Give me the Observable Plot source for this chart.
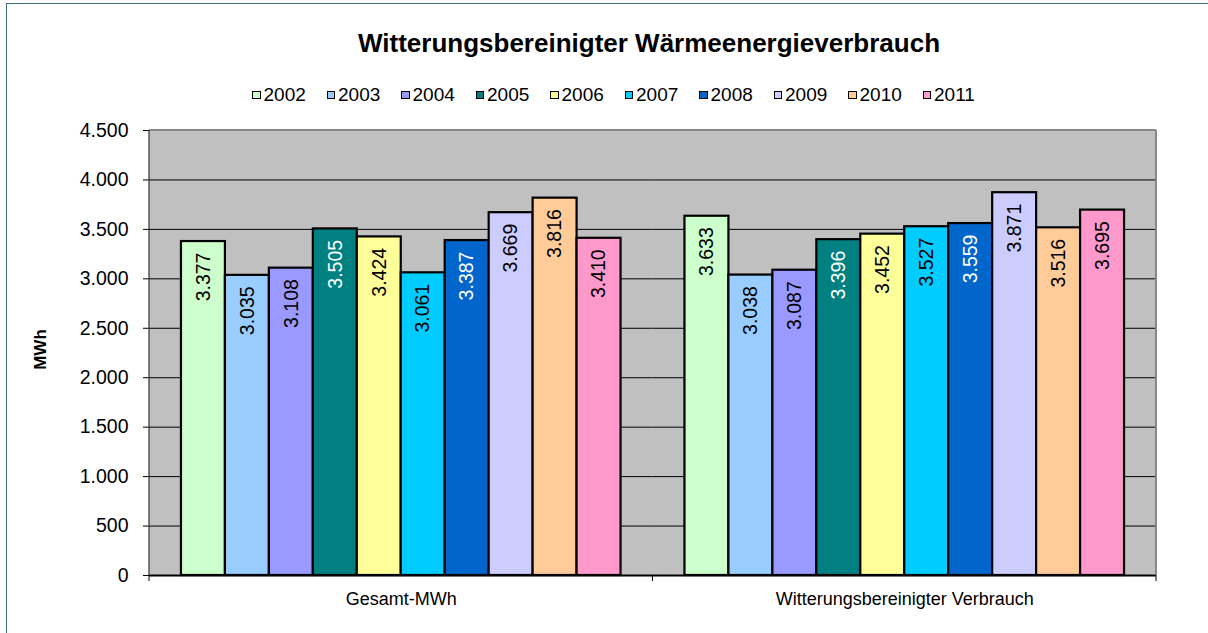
<!DOCTYPE html>
<html>
<head>
<meta charset="utf-8">
<script src="https://cdn.jsdelivr.net/npm/d3@7"></script>
<script src="https://cdn.jsdelivr.net/npm/@observablehq/plot@0.6"></script>
<style>
  html, body { margin: 0; padding: 0; background: #fff; overflow: hidden; }
  body { font-family: "Liberation Sans", Arial, sans-serif; }
  #wrap { position: relative; width: 1208px; height: 633px; overflow: hidden; }
  #chart { position: absolute; left: 0; top: 0; }
  #border { position: absolute; left: 6px; top: 3px; width: 1400px; height: 900px;
            border-left: 1px solid #41707f; border-top: 1px solid #41707f; pointer-events: none; }
  #title { position: absolute; left: 0; width: 1298px; top: 30px; text-align: center;
           font-weight: bold; font-size: 26px; line-height: 26px; color: #000; white-space: nowrap; }
  #legend { position: absolute; left: 252px; top: 85px; display: flex; font-size: 19px; line-height: 19px; color: #000; }
  #legend .item { width: 74.5px; display: flex; align-items: center; }
  #legend .sw { width: 8.5px; height: 8.5px; box-sizing: border-box; border: 1px solid #000; margin-right: 3px; margin-top: 1px; }
</style>
</head>
<body>
<div id="wrap">
  <div id="chart"></div>
  <div id="title"></div>
  <div id="legend"></div>
  <div id="border"></div>
</div>
<script>
// ---- data ----
const titleText = "Witterungsbereinigter Wärmeenergieverbrauch";
const yAxisTitle = "MWh";
const categories = ["Gesamt-MWh", "Witterungsbereinigter Verbrauch"];
const years = ["2002", "2003", "2004", "2005", "2006", "2007", "2008", "2009", "2010", "2011"];
const gesamtValues = [3377, 3035, 3108, 3505, 3424, 3061, 3387, 3669, 3816, 3410];
const witterungValues = [3633, 3038, 3087, 3396, 3452, 3527, 3559, 3871, 3516, 3695];
const yearColors = ["#CCFFCC", "#99CCFF", "#9999FF", "#008080", "#FFFF99", "#00CCFF", "#0066CC", "#CCCCFF", "#FFCC99", "#FF99CC"];
const whiteLabelYears = ["2005", "2008"];
const yTicks = [0, 500, 1000, 1500, 2000, 2500, 3000, 3500, 4000, 4500];

// ---- table ----
const seriesValues = [gesamtValues, witterungValues];
const data = categories.flatMap((cat, ci) =>
  years.map((year, i) => ({cat, year, value: seriesValues[ci][i]})));

const de = d3.formatLocale({decimal: ",", thousands: ".", grouping: [3], currency: ["", " €"]});
const fmt = de.format(",d");

const FONT = "'Liberation Sans', Arial, sans-serif";

document.getElementById("title").textContent = titleText;
const legend = d3.select("#legend");
years.forEach((yr, i) => {
  const it = legend.append("div").attr("class", "item");
  it.append("div").attr("class", "sw").style("background", yearColors[i]);
  it.append("span").text(yr);
});

const chart = Plot.plot({
  width: 1208,
  height: 633,
  marginTop: 130,
  marginBottom: 58,
  marginLeft: 149,
  marginRight: 52,
  style: {fontFamily: FONT, fontSize: "18px", color: "#000", background: "transparent", overflow: "visible"},
  fx: {domain: categories, padding: 0, round: false, axis: "bottom", tickSize: 0, tickPadding: 17, label: null},
  x: {domain: years, paddingInner: 0, paddingOuter: 0.727, round: false, axis: null},
  y: {domain: [0, 4500], ticks: yTicks, tickFormat: fmt, tickSize: 6, tickPadding: 15, label: null},
  color: {domain: years, range: yearColors},
  facet: {data, x: "cat"},
  marks: [
    Plot.ruleY(yTicks.filter(t => t > 0 && t < 4500), {stroke: "#000", strokeWidth: 1}),
    Plot.barY(data, {x: "year", y: "value", fill: "year", stroke: "#000", strokeWidth: 2.2}),
    Plot.ruleY([0], {stroke: "#000", strokeWidth: 2}),
    Plot.text(data, {
      x: "year", y: "value", text: d => fmt(d.value),
      rotate: -90, textAnchor: "end", lineAnchor: "middle", dy: 11,
      fontSize: 19.5, fontFamily: FONT,
      fill: d => whiteLabelYears.includes(d.year) ? "#fff" : "#000"
    })
  ]
});
document.getElementById("chart").appendChild(chart);

const svg = d3.select(chart);
// enlarge y tick labels only
svg.selectAll("g[aria-label^='y-axis'] text").style("font-size", "19.5px");

// frame decorations derived from the plot's own scales
const fxS = chart.scale("fx");
const yS = chart.scale("y");
const x0 = Math.min(...fxS.range), x1 = Math.max(...fxS.range);
const yb = Math.max(...yS.range), yt = Math.min(...yS.range);
const step = (x1 - x0) / categories.length;

// plot-area background, placed beneath every mark
svg.insert("rect", ":first-child")
  .attr("x", x0).attr("y", yt).attr("width", x1 - x0).attr("height", yb - yt)
  .attr("fill", "#c0c0c0");

const g = svg.append("g");
g.append("line").attr("x1", x0).attr("x2", x1).attr("y1", yt).attr("y2", yt).attr("stroke", "#888").attr("stroke-width", 2);
g.append("line").attr("x1", x1).attr("x2", x1).attr("y1", yt).attr("y2", yb).attr("stroke", "#888").attr("stroke-width", 2);
g.append("line").attr("x1", x0).attr("x2", x0).attr("y1", yt).attr("y2", yb).attr("stroke", "#333").attr("stroke-width", 1.2);
d3.range(categories.length + 1).forEach(i => {
  const xx = x0 + i * step;
  g.append("line").attr("x1", xx).attr("x2", xx).attr("y1", yb).attr("y2", yb + 6).attr("stroke", "#000").attr("stroke-width", 1);
});
g.append("text").text(yAxisTitle)
  .attr("transform", `translate(${x0 - 109},${(yt + yb) / 2 - 3}) rotate(-90)`)
  .attr("text-anchor", "middle").attr("dy", "0.35em")
  .attr("font-weight", "bold").attr("font-size", 17).attr("font-family", FONT).attr("fill", "#000");
</script>
</body>
</html>
